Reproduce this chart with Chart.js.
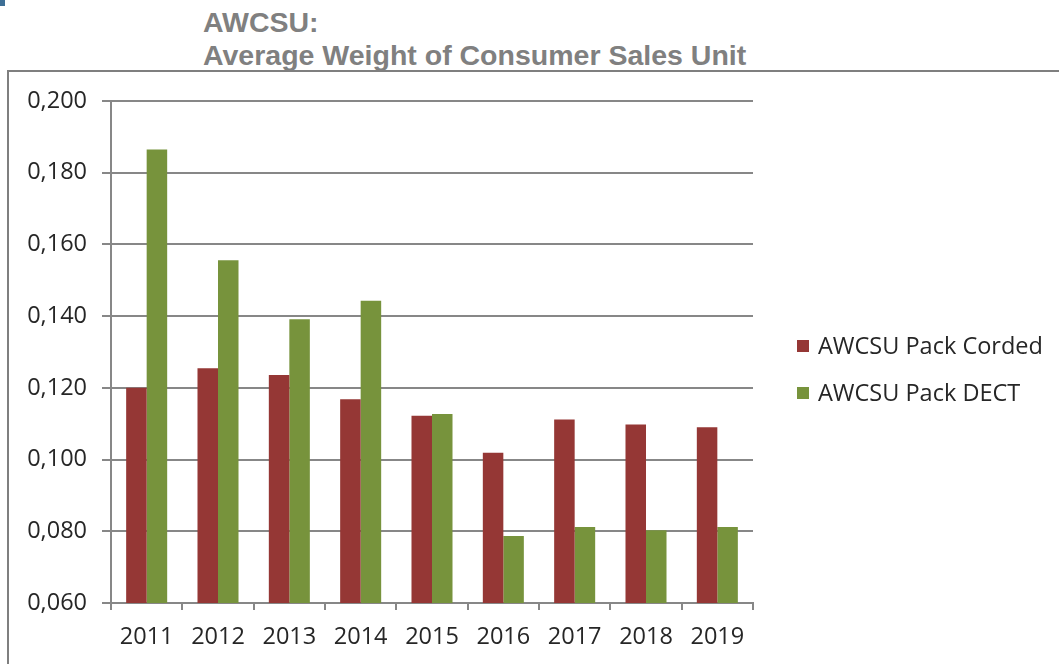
<!DOCTYPE html>
<html>
<head>
<meta charset="utf-8">
<script src="https://cdn.jsdelivr.net/npm/chart.js@4"></script>
<style>
	html, body { margin: 0; padding: 0; background: #fff; }
	body { width: 1059px; height: 664px; position: relative; overflow: hidden; }
	.corner { position: absolute; left: 0; top: 0; width: 5px; height: 6px; background: #3e6f96; }
	.frame { position: absolute; left: 7px; top: 70px; width: 1100px; height: 700px; border-left: 2px solid #7f7f7f; border-top: 2px solid #7f7f7f; }
	.title { position: absolute; left: 203px; font-family: "Liberation Sans", Arial, sans-serif; font-weight: bold; font-size: 28.5px; color: #808080; line-height: 30px; white-space: nowrap; }
	#wrap { position: absolute; left: 0; top: 0; width: 1059px; height: 664px; }
</style>
</head>
<body>
<div class="corner"></div>
<div class="frame"></div>
<div class="title" style="top: 7px;">AWCSU:</div>
<div class="title" style="top: 40px;">Average Weight of Consumer Sales Unit</div>
<div id="wrap"><canvas id="awcsuChart" width="1059" height="664"></canvas></div>
<script>
const years = ['2011', '2012', '2013', '2014', '2015', '2016', '2017', '2018', '2019'];
const packCorded = [0.120, 0.1255, 0.1236, 0.1168, 0.1122, 0.1019, 0.1112, 0.1098, 0.1090];
const packDect = [0.1865, 0.1556, 0.1391, 0.1443, 0.1127, 0.0787, 0.0812, 0.0803, 0.0812];
const seriesNames = ['AWCSU Pack Corded', 'AWCSU Pack DECT'];
const yMin = 0.06;
const yMax = 0.2;
const yStep = 0.02;

document.addEventListener('DOMContentLoaded', function() {
	const ctx = document.getElementById('awcsuChart');
	const gridGray = '#878787';
	const textColor = '#262626';
	const tickFont = { family: '"Open Sans", "Noto Sans", sans-serif', size: 23.5 };

	// legend drawn beside the plot, Excel style
	const sideLegend = {
		id: 'sideLegend',
		afterDraw: function(chart) {
			const c = chart.ctx;
			const area = chart.chartArea;
			const x = area.right + 44;
			const rows = [346, 393];
			c.save();
			c.font = '23.5px "Open Sans", "Noto Sans", sans-serif';
			c.textBaseline = 'middle';
			chart.data.datasets.forEach(function(ds, i) {
				c.fillStyle = ds.backgroundColor;
				c.fillRect(x, rows[i] - 6, 12, 12);
				c.fillStyle = textColor;
				c.fillText(ds.label, x + 21, rows[i] + 1);
			});
			c.restore();
		}
	};

	new Chart(ctx.getContext('2d'), {
		type: 'bar',
		data: {
			labels: years,
			datasets: [{
				label: seriesNames[0],
				data: packCorded,
				backgroundColor: '#953735',
				categoryPercentage: 0.575,
				barPercentage: 1
			}, {
				label: seriesNames[1],
				data: packDect,
				backgroundColor: '#77933c',
				categoryPercentage: 0.575,
				barPercentage: 1
			}]
		},
		options: {
			responsive: false,
			animation: false,
			layout: {
				padding: { left: 0, top: 101, right: 306, bottom: 0 }
			},
			scales: {
				x: {
					grid: {
						display: true,
						drawOnChartArea: false,
						color: gridGray,
						lineWidth: 2,
						tickLength: 7,
						offset: true
					},
					border: { display: true, color: gridGray, width: 2 },
					ticks: {
						color: textColor,
						font: tickFont,
						padding: 13,
						maxRotation: 0
					},
					afterFit: function(scale) {
						scale.height = 61;
					}
				},
				y: {
					min: yMin,
					max: yMax,
					ticks: {
						stepSize: yStep,
						color: textColor,
						font: tickFont,
						padding: 15,
						callback: function(value) {
							return value.toFixed(3).replace('.', ',');
						}
					},
					grid: {
						color: gridGray,
						lineWidth: 2,
						tickLength: 9
					},
					border: { display: true, color: gridGray, width: 2 },
					afterFit: function(scale) {
						scale.width = 111;
					}
				}
			},
			plugins: {
				legend: { display: false },
				tooltip: { enabled: false }
			}
		},
		plugins: [sideLegend]
	});
});
</script>
</body>
</html>
